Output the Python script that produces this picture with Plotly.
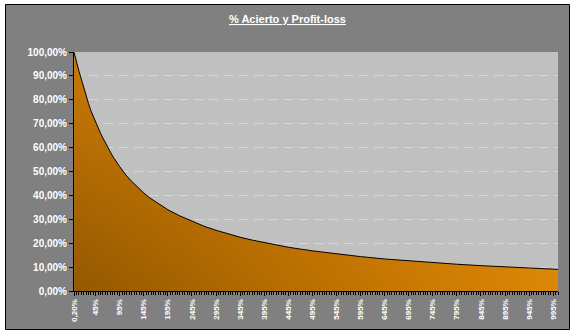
import plotly.graph_objects as go

# Profit-loss ratio (%) along the x axis and the required hit rate (% Acierto)
ratio_pct = [0.2, 2.5, 5, 7.5, 10, 15, 20, 25, 30, 35, 40, 45, 50, 55, 60, 70, 80, 95,
             108, 120, 132, 145, 157, 170, 182, 195, 220, 245, 270, 295, 320, 345, 370,
             395, 445, 495, 545, 595, 645, 695, 745, 795, 845, 895, 945, 995, 1005]
acierto_pct = [99.8, 97.8, 95.8, 94.0, 92.2, 88.8, 85.0, 81.5, 78.5, 75.5, 73.0, 70.5,
               68.2, 66.0, 64.0, 60.0, 56.5, 52.0, 48.5, 45.8, 43.3, 41.0, 39.0, 37.2,
               35.6, 34.0, 31.4, 29.1, 27.1, 25.4, 23.9, 22.5, 21.3, 20.2, 18.3, 16.8,
               15.5, 14.4, 13.4, 12.6, 11.8, 11.2, 10.6, 10.05, 9.6, 9.1, 9.05]

x_tick_vals = [0.2, 45, 95, 145, 195, 245, 295, 345, 395, 445, 495, 545, 595, 645,
               695, 745, 795, 845, 895, 945, 995]
x_tick_text = ["0,20%", "45%", "95%", "145%", "195%", "245%", "295%", "345%", "395%",
               "445%", "495%", "545%", "595%", "645%", "695%", "745%", "795%", "845%",
               "895%", "945%", "995%"]
y_tick_vals = [0, 10, 20, 30, 40, 50, 60, 70, 80, 90, 100]
y_tick_text = ["0,00%", "10,00%", "20,00%", "30,00%", "40,00%", "50,00%", "60,00%",
               "70,00%", "80,00%", "90,00%", "100,00%"]

title_text = "% Acierto y Profit-loss"

W, H = 577, 336
L, R, T, B = 74, 558, 52, 291  # plot area in pixels
pw, ph = R - L, B - T
FONT = "Liberation Sans, Arial, sans-serif"


def px_x(p):
    return (p - L) / pw


def px_y(p):
    return (B - p) / ph


fig = go.Figure()

# base fill: horizontal gradient dark brown -> orange
fig.add_trace(go.Scatter(
    x=ratio_pct, y=acierto_pct, mode="lines", fill="tozeroy",
    line=dict(width=0, color="rgba(0,0,0,0)"),
    fillgradient=dict(type="horizontal", start=0, stop=1005,
                      colorscale=[[0, "#935800"], [0.5, "#bb7000"], [1, "#dc8706"]]),
    hoverinfo="skip", showlegend=False))

# vertical brightening toward the top (diagonal look) + curve outline
fig.add_trace(go.Scatter(
    x=ratio_pct, y=acierto_pct, mode="lines", fill="tozeroy",
    line=dict(width=1, color="#000000"),
    fillgradient=dict(type="vertical", start=0, stop=100,
                      colorscale=[[0, "rgba(232,140,8,0)"], [1, "rgba(232,140,8,0.65)"]]),
    showlegend=False))

fig.update_layout(
    width=W, height=H,
    margin=dict(l=L, r=W - R, t=T, b=H - B, pad=0),
    paper_bgcolor="#ffffff",
    plot_bgcolor="rgba(0,0,0,0)",
    font=dict(family=FONT, color="#ffffff"),
    shapes=[
        dict(type="rect", xref="paper", yref="paper",
             x0=px_x(5.5), x1=px_x(569.5), y0=px_y(329.5), y1=px_y(4.5),
             fillcolor="#808080", line=dict(color="#000000", width=1), layer="below"),
        dict(type="rect", xref="paper", yref="paper", x0=0, x1=1, y0=0, y1=1,
             fillcolor="#c0c0c0", line=dict(width=0), layer="below"),
    ],
    annotations=[dict(
        text="<b><u>" + title_text + "</u></b>", xref="paper", yref="paper",
        x=px_x(287), y=px_y(19), xanchor="center", yanchor="middle", showarrow=False,
        font=dict(size=11, color="#ffffff", family=FONT))],
)

fig.update_xaxes(
    range=[0, 1005], showgrid=False, zeroline=False,
    showline=True, linecolor="#000000", linewidth=1,
    tickmode="array", tickvals=x_tick_vals, ticktext=x_tick_text,
    ticks="outside", ticklen=4, tickcolor="#000000", tickangle=-90,
    tickfont=dict(size=8, color="#ffffff", family=FONT, weight="bold"),
    minor=dict(tickmode="linear", tick0=0, dtick=5, ticks="outside", ticklen=3,
               tickcolor="#000000", showgrid=False),
)

fig.update_yaxes(
    range=[0, 100], showgrid=False, zeroline=False,
    showline=True, linecolor="#000000", linewidth=1,
    tickmode="array", tickvals=y_tick_vals, ticktext=y_tick_text,
    ticks="outside", ticklen=4, tickcolor="#000000",
    tickfont=dict(size=10, color="#ffffff", family=FONT, weight="bold"),
    minor=dict(tickmode="array", tickvals=[10, 20, 30, 40, 50, 60, 70, 80, 90],
               ticks="", showgrid=True, gridcolor="#ffcf9c", griddash="9px,6px",
               gridwidth=1),
)

fig.write_html("out.html")
